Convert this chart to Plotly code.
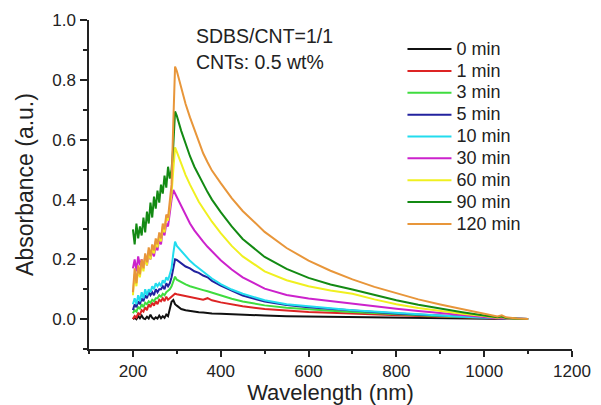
import plotly.graph_objects as go

# ---- data -------------------------------------------------------------
wavelength = [200, 204, 208, 212, 216, 220, 224, 228, 232, 236, 240, 244, 248, 252,
              256, 260, 264, 268, 272, 276, 280, 284, 288, 292, 296,
              300, 310, 320, 330, 340, 350, 360, 370, 380, 400, 425, 450, 500, 550,
              600, 650, 700, 750, 800, 850, 900, 950, 1000, 1030, 1040, 1050, 1075, 1100]

series_names = ["0 min", "1 min", "3 min", "5 min", "10 min", "30 min", "60 min", "90 min", "120 min"]
series_colors = ["#111111", "#dd2424", "#3fdc3f", "#22229f", "#22dcee", "#cc22cc",
                 "#f0f020", "#138a13", "#e8963a"]

abs_0min = [0.0, 0.005, 0.0, 0.01, 0.003, 0.012, 0.002, 0.0, 0.008, 0.002, 0.015, 0.004,
            0.0, 0.006, 0.002, 0.012, 0.003, 0.01, 0.004, 0.015, 0.01, 0.03, 0.058, 0.064, 0.05,
            0.045, 0.034, 0.03, 0.027, 0.025, 0.023, 0.022, 0.02, 0.019, 0.018, 0.016, 0.014,
            0.012, 0.01, 0.009, 0.008, 0.007, 0.006, 0.005, 0.004, 0.004, 0.003, 0.002,
            0.001, 0.001, 0.001, 0.0, 0.0]
abs_1min = [0.0, 0.01, 0.005, 0.02, 0.015, 0.03, 0.025, 0.04, 0.03, 0.05, 0.04, 0.055,
            0.045, 0.06, 0.05, 0.065, 0.06, 0.07, 0.06, 0.075, 0.065, 0.07, 0.075, 0.08, 0.085,
            0.083, 0.08, 0.078, 0.075, 0.071, 0.068, 0.065, 0.07, 0.063, 0.056, 0.049, 0.043,
            0.034, 0.028, 0.024, 0.021, 0.018, 0.015, 0.012, 0.01, 0.008, 0.006, 0.004,
            0.002, 0.002, 0.001, 0.0005, 0.0]
abs_3min = [0.02, 0.03, 0.025, 0.04, 0.035, 0.05, 0.04, 0.055, 0.05, 0.06, 0.055, 0.065,
            0.06, 0.07, 0.07, 0.08, 0.075, 0.085, 0.08, 0.09, 0.095, 0.1, 0.11, 0.13, 0.142,
            0.132, 0.123, 0.116, 0.11, 0.105, 0.101, 0.097, 0.093, 0.088, 0.078, 0.068, 0.059,
            0.046, 0.038, 0.032, 0.028, 0.024, 0.02, 0.016, 0.013, 0.01, 0.007, 0.004,
            0.002, 0.003, 0.001, 0.0005, 0.0]
abs_5min = [0.03, 0.05, 0.04, 0.06, 0.05, 0.07, 0.06, 0.08, 0.07, 0.09, 0.08, 0.09,
            0.08, 0.1, 0.09, 0.1, 0.1, 0.11, 0.1, 0.12, 0.11, 0.12, 0.14, 0.17, 0.2,
            0.198, 0.188, 0.176, 0.17, 0.16, 0.155, 0.146, 0.14, 0.128, 0.112, 0.095, 0.079,
            0.059, 0.047, 0.04, 0.034, 0.029, 0.024, 0.019, 0.015, 0.011, 0.008, 0.005,
            0.003, 0.003, 0.002, 0.001, 0.0]
abs_10min = [0.05, 0.07, 0.05, 0.08, 0.06, 0.09, 0.07, 0.1, 0.08, 0.1, 0.09, 0.11,
             0.1, 0.12, 0.11, 0.12, 0.11, 0.13, 0.12, 0.14, 0.13, 0.15, 0.17, 0.22, 0.259,
             0.245, 0.228, 0.21, 0.195, 0.182, 0.17, 0.158, 0.147, 0.136, 0.117, 0.099, 0.085,
             0.063, 0.05, 0.042, 0.036, 0.03, 0.025, 0.02, 0.016, 0.012, 0.008, 0.005,
             0.003, 0.003, 0.002, 0.001, 0.0]
abs_30min = [0.17, 0.2, 0.16, 0.21, 0.18, 0.2, 0.17, 0.21, 0.18, 0.22, 0.2, 0.23,
             0.21, 0.25, 0.23, 0.27, 0.25, 0.3, 0.28, 0.32, 0.31, 0.36, 0.4, 0.432, 0.42,
             0.41, 0.378, 0.348, 0.32, 0.297, 0.277, 0.259, 0.242, 0.226, 0.197, 0.166, 0.14,
             0.102, 0.081, 0.069, 0.06, 0.052, 0.043, 0.035, 0.027, 0.02, 0.013, 0.007,
             0.003, 0.004, 0.002, 0.001, 0.0]
abs_60min = [0.08, 0.15, 0.11, 0.17, 0.14, 0.19, 0.16, 0.21, 0.18, 0.23, 0.2, 0.24,
             0.22, 0.26, 0.24, 0.28, 0.26, 0.31, 0.29, 0.34, 0.33, 0.38, 0.42, 0.5, 0.575,
             0.56, 0.52, 0.482, 0.45, 0.42, 0.393, 0.37, 0.347, 0.326, 0.288, 0.245, 0.21,
             0.16, 0.13, 0.11, 0.096, 0.085, 0.066, 0.05, 0.037, 0.027, 0.018, 0.01,
             0.005, 0.007, 0.003, 0.001, 0.0]
abs_90min = [0.3, 0.25, 0.32, 0.27, 0.31, 0.28, 0.34, 0.29, 0.36, 0.32, 0.39, 0.34,
             0.41, 0.37, 0.43, 0.39, 0.45, 0.42, 0.48, 0.44, 0.51, 0.47, 0.5, 0.58, 0.695,
             0.68, 0.63, 0.585, 0.545, 0.51, 0.48, 0.452, 0.425, 0.4, 0.358, 0.31, 0.268,
             0.208, 0.168, 0.138, 0.116, 0.099, 0.08, 0.063, 0.048, 0.035, 0.023, 0.012,
             0.006, 0.009, 0.004, 0.001, 0.0]
abs_120min = [0.09, 0.17, 0.12, 0.18, 0.15, 0.2, 0.17, 0.22, 0.19, 0.24, 0.21, 0.25,
              0.23, 0.27, 0.25, 0.29, 0.27, 0.32, 0.3, 0.35, 0.34, 0.4, 0.45, 0.66, 0.845,
              0.83, 0.775, 0.72, 0.675, 0.635, 0.595, 0.555, 0.525, 0.497, 0.455, 0.405, 0.362,
              0.292, 0.238, 0.196, 0.162, 0.133, 0.108, 0.086, 0.066, 0.049, 0.034, 0.019,
              0.009, 0.013, 0.006, 0.002, 0.0]

series_values = [abs_0min, abs_1min, abs_3min, abs_5min, abs_10min, abs_30min,
                 abs_60min, abs_90min, abs_120min]

note_lines = ["SDBS/CNT=1/1", "CNTs: 0.5 wt%"]

# ---- figure -----------------------------------------------------------
FONT = "Liberation Sans, Arial, sans-serif"
INK = "#222222"

fig = go.Figure()
for name, color, vals in zip(series_names, series_colors, series_values):
    fig.add_trace(go.Scatter(
        x=wavelength, y=vals, mode="lines",
        name='<span style="font-size:18px">' + name + '</span>',
        line=dict(color=color, width=2)))

# the page body has an 8px default margin, so the figure is 8px smaller
fig.update_layout(
    width=593, height=397,
    margin=dict(l=81, r=29, t=12, b=56, autoexpand=False),
    paper_bgcolor="white", plot_bgcolor="white",
    font=dict(family=FONT, color=INK, size=17),
    showlegend=True,
    legend=dict(x=0.649, y=0.96, xanchor="left", yanchor="top",
                bgcolor="rgba(0,0,0,0)", borderwidth=0,
                font=dict(family=FONT, size=14.5, color=INK),
                itemwidth=44, tracegroupgap=0),
    annotations=[
        dict(text=note_lines[0], xref="paper", yref="paper", x=0.218, y=0.951,
             xanchor="left", yanchor="middle", showarrow=False,
             font=dict(family=FONT, size=19.5, color=INK)),
        dict(text=note_lines[1], xref="paper", yref="paper", x=0.218, y=0.872,
             xanchor="left", yanchor="middle", showarrow=False,
             font=dict(family=FONT, size=19.5, color=INK)),
    ],
)

fig.update_xaxes(range=[100, 1200], tick0=0, dtick=200, showline=True, automargin=False,
                 linecolor=INK, linewidth=1.5, ticks="outside", ticklen=6,
                 tickwidth=1.5, tickcolor=INK, showgrid=False, zeroline=False,
                 minor=dict(ticks="outside", ticklen=3, dtick=100, tick0=0,
                            tickcolor=INK, tickwidth=1.5),
                 tickfont=dict(size=17),
                 title=dict(text="Wavelength (nm)", font=dict(size=22), standoff=3))
fig.update_yaxes(range=[-0.1, 1.001], tick0=0, dtick=0.2, tickformat=".1f",
                 showline=True, automargin=False, linecolor=INK, linewidth=1.5,
                 ticks="outside", ticklen=7, tickwidth=1.5, tickcolor=INK,
                 ticklabelstandoff=1, showgrid=False, zeroline=False,
                 minor=dict(ticks="outside", ticklen=4, dtick=0.1, tick0=0,
                            tickcolor=INK, tickwidth=1.5),
                 tickfont=dict(size=17),
                 title=dict(text="Absorbance (a.u.)", font=dict(size=23), standoff=12))

fig.write_html("out.html")
